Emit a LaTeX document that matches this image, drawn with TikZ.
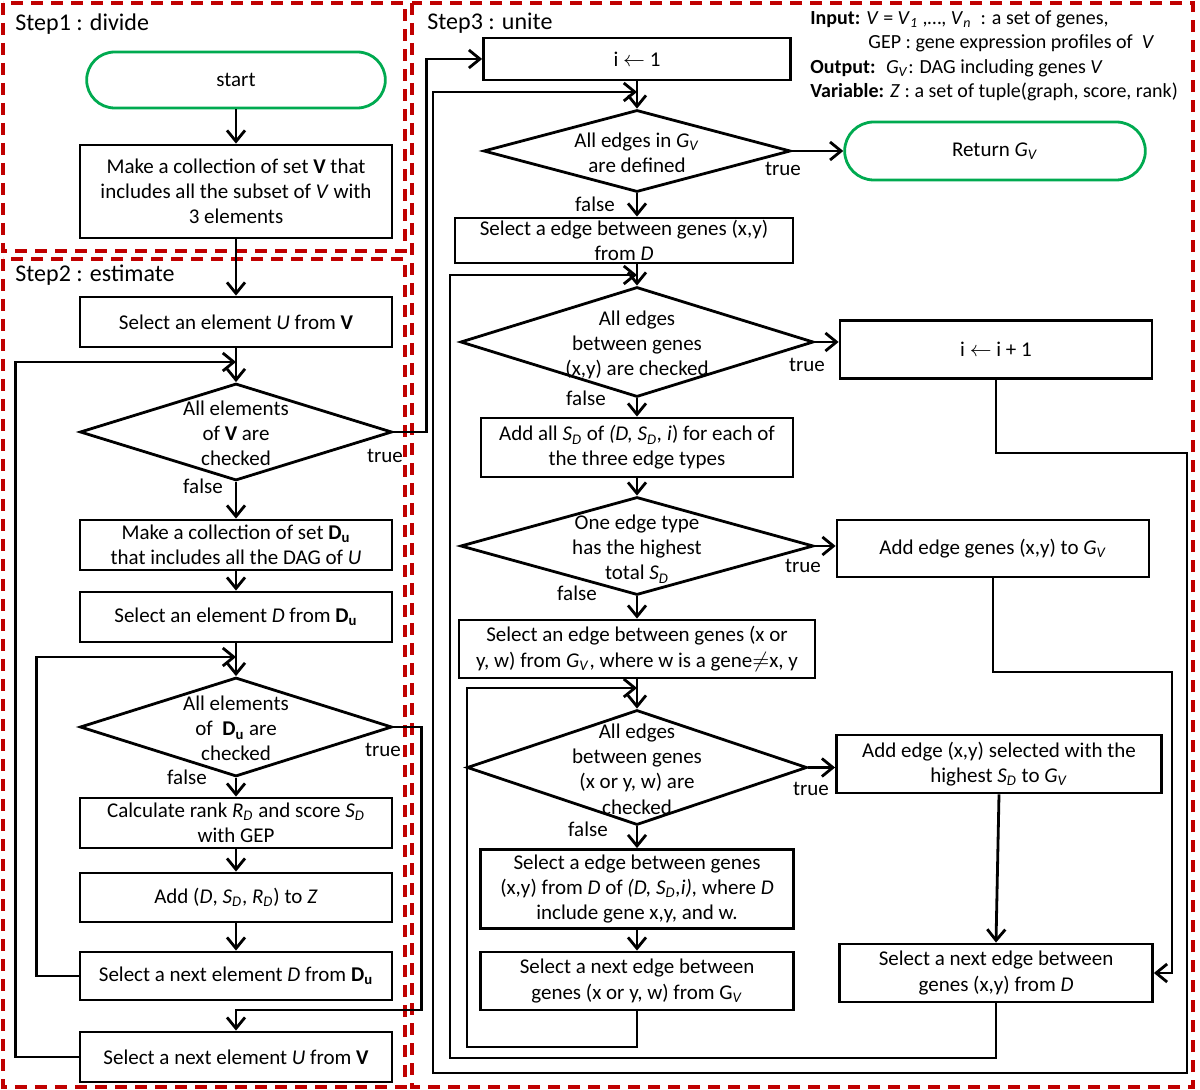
\documentclass[tikz,border=0pt]{standalone}
\usepackage{fontspec}
\setmainfont{Carlito}
\usetikzlibrary{shapes.geometric,shapes.misc,arrows.meta}
\definecolor{stagered}{RGB}{192,0,0}
\definecolor{termgreen}{RGB}{0,170,80}
\newcommand{\GV}{\textit{G}\textsubscript{\textit{V}}}
\newcommand{\SD}{\textit{S}\textsubscript{\textit{D}}}
\newcommand{\RD}{\textit{R}\textsubscript{\textit{D}}}
\newcommand{\Du}{\textbf{D}\textsubscript{\textbf{u}}}
\newcommand{\dtext}[1]{\makebox[0pt]{\raisebox{-4.6pt}[0pt][0pt]{\begin{tabular}{@{}c@{}}#1\end{tabular}}}}
\tikzset{
  stage/.style={draw=stagered, line width=2pt, dash pattern=on 6pt off 4pt},
  steplabel/.style={anchor=west, inner sep=0pt, font=\fontsize{12}{14}\selectfont},
  proc/.style={draw, line width=1.4pt, align=center, inner sep=1pt},
  decision/.style={draw, diamond, line width=1.4pt, inner sep=0pt},
  term/.style={draw=termgreen, rounded rectangle, line width=1.4pt},
  lbl/.style={inner sep=0pt},
  arr/.style={line width=1.4pt, -{Straight Barb[length=5.5pt,width=9pt]}}
}

\begin{document}
\begin{tikzpicture}[x=0.5pt, y=-0.5pt, font=\fontsize{10.5}{12.6}\selectfont]
  \useasboundingbox (0,0) rectangle (1200,1090);
  \draw[stage] (3,3) rectangle (405,251);
  \draw[stage] (3,259) rectangle (405,1087);
  \draw[stage] (412,3) rectangle (1193,1087);
  \node[steplabel] (s1) at (15,24) {Step1 : divide};
  \node[steplabel] (s2) at (15,275) {Step2 : estimate};
  \node[steplabel] (s3) at (427,23) {Step3 : unite};
  \node[anchor=north west, inner sep=0pt, align=left, font=\fontsize{10}{12.3}\selectfont] (info) at (810,10)
    {\textbf{Input:} \textit{V} = \textit{V}\textsubscript{\textit{1}} ,…, \textit{V}\textsubscript{\textit{n}}~ : a set of genes,\\
     \hspace*{29pt}GEP : gene expression profiles of~ \textit{V}\\
     \textbf{Output:}~ \GV : DAG including genes \textit{V}\\
     \textbf{Variable:} \textit{Z} : a set of tuple(graph, score, rank)};

  \node[term, minimum width=156pt, minimum height=28pt] (start) at (236,80) {start};
  \node[proc, minimum width=156pt, minimum height=46.5pt] (makeV) at (236,191.5)
    {Make a collection of set \textbf{V} that\\includes all the subset of \textit{V} with\\3 elements};
  \node[proc, minimum width=156pt, minimum height=25pt] (selU) at (236,322) {Select an element \textit{U} from \textbf{V}};
  \node[decision, minimum width=156pt, minimum height=48.5pt] (d1) at (236,432) {\dtext{All elements\\of \textbf{V} are\\checked}};
  \node[proc, minimum width=156pt, minimum height=25pt] (makeDu) at (236,545)
    {Make a collection of set \Du\\that includes all the DAG of \textit{U}};
  \node[proc, minimum width=156pt, minimum height=25pt] (selD) at (236,617) {Select an element \textit{D} from \Du};
  \node[decision, minimum width=156pt, minimum height=49.5pt] (d2) at (236,727) {\dtext{All elements\\of~ \Du{} are\\checked}};
  \node[proc, minimum width=156pt, minimum height=25pt] (calc) at (236,823) {Calculate rank \RD{} and score \SD\\with GEP};
  \node[proc, minimum width=156pt, minimum height=24.5pt] (addZ) at (236,897.5) {Add (\textit{D}, \SD, \RD) to \textit{Z}};
  \node[proc, minimum width=156pt, minimum height=24pt] (nextD) at (236,976) {Select a next element \textit{D} from \Du};
  \node[proc, minimum width=156pt, minimum height=25pt] (nextU) at (236,1057) {Select a next element \textit{U} from \textbf{V}};

  \node[proc, minimum width=153.5pt, minimum height=21pt] (i1) at (637,59) {i $\leftarrow$ 1};
  \node[decision, minimum width=153.5pt, minimum height=41pt] (d3) at (637,151) {\dtext{All edges in \GV\\are defined}};
  \node[term, minimum width=157pt, minimum height=29pt] (ret) at (995,151) {Return \GV};
  \node[proc, minimum width=169pt, minimum height=22.5pt] (selXY) at (624,240.5) {Select a edge between genes (x,y)\\from \textit{D}};
  \node[decision, minimum width=176.5pt, minimum height=55pt] (d4) at (637,342) {\dtext{All edges\\between genes\\(x,y) are checked}};
  \node[proc, minimum width=156pt, minimum height=29pt] (incI) at (996,349.5) {i $\leftarrow$ i + 1};
  \node[proc, minimum width=156pt, minimum height=29.5pt] (addAll) at (637,447.5)
    {Add all \SD{} of \textit{(D, }\SD\textit{, i}) for each of\\the three edge types};
  \node[decision, minimum width=176.5pt, minimum height=49pt] (d5) at (637,546) {\dtext{One edge type\\has the highest\\total \SD}};
  \node[proc, minimum width=156pt, minimum height=28.5pt] (addEdge) at (993,548.5) {Add edge genes (x,y) to \GV};
  \node[proc, minimum width=178pt, minimum height=29pt] (selW) at (637,649)
    {Select an edge between genes (x or\\y, w) from \GV, where w is a gene$\neq$x, y};
  \node[decision, minimum width=170pt, minimum height=57.5pt] (d6) at (637,767.5) {\dtext{All edges\\between genes\\(x or y, w) are\\checked}};
  \node[proc, minimum width=162.5pt, minimum height=29pt] (addHigh) at (999,764)
    {Add edge (x,y) selected with the\\highest \SD{} to \GV};
  \node[proc, minimum width=156.5pt, minimum height=39.5pt] (selE) at (637,889)
    {Select a edge between genes\\(x,y) from \textit{D} of \textit{(D, }\SD\textit{,i), }where \textit{D}\\include gene x,y, and w.};
  \node[proc, minimum width=156.5pt, minimum height=29pt] (nextW) at (637,981)
    {Select a next edge between\\genes (x or y, w) from G\textsubscript{\textit{V}}};
  \node[proc, minimum width=156.5pt, minimum height=29pt] (nextXY) at (996,973)
    {Select a next edge between\\genes (x,y) from \textit{D}};

  \node[lbl] (t1) at (385,456) {true};
  \node[lbl] (f1) at (203,486) {false};
  \node[lbl] (t2) at (383,750) {true};
  \node[lbl] (f2) at (187,777) {false};
  \node[lbl] (t3) at (783,169) {true};
  \node[lbl] (f3) at (595,204) {false};
  \node[lbl] (t4) at (807,365) {true};
  \node[lbl] (f4) at (586,398) {false};
  \node[lbl] (t5) at (803,566) {true};
  \node[lbl] (f5) at (577,593) {false};
  \node[lbl] (t6) at (811,789) {true};
  \node[lbl] (f6) at (588,829) {false};

  \coordinate (j1) at (236,362);
  \coordinate (j2) at (236,1010);
  \coordinate (j3) at (236,657);
  \coordinate (k1) at (637,92);
  \coordinate (k2) at (637,275);
  \coordinate (k3) at (637,688);

  \draw[arr] (start.south) -- (makeV.north);
  \draw[arr] (makeV.south) -- (selU.north);
  \draw[arr] (selU.south) -- (d1.north);
  \draw[arr] (d1.south) -- (makeDu.north);
  \draw[arr] (makeDu.south) -- (selD.north);
  \draw[arr] (selD.south) -- (d2.north);
  \draw[arr] (d2.south) -- (calc.north);
  \draw[arr] (calc.south) -- (addZ.north);
  \draw[arr] (addZ.south) -- (nextD.north);
  \draw[arr] (nextD.west) -- ++(-42,0) |- (j3);
  \draw[arr] (nextU.west) -- ++(-63,0) |- (j1);
  \draw[arr] (d2.east) -- ++(28,0) |- (j2) -- (nextU.north);
  \draw[arr] (d1.east) -- ++(33,0) |- (i1.west);

  \draw[arr] (i1.south) -- (d3.north);
  \draw[arr] (d3.east) -- (ret.west);
  \draw[arr] (d3.south) -- (d3.south |- selXY.north);
  \draw[arr] (selXY.south -| d4.north) -- (d4.north);
  \draw[arr] (d4.east) -- (d4.east -| incI.west);
  \draw[arr] (d4.south) -- (addAll.north);
  \draw[arr] (addAll.south) -- (d5.north);
  \draw[arr] (d5.east) -- (d5.east -| addEdge.west);
  \draw[arr] (d5.south) -- (selW.north);
  \draw[arr] (selW.south) -- (d6.north);
  \draw[arr] (d6.east) -- (d6.east -| addHigh.west);
  \draw[arr] (d6.south) -- (selE.north);
  \draw[arr] (selE.south) -- (nextW.north);
  \draw[arr] (addHigh.south) -- (nextXY.north);
  \draw[arr] (addEdge.south) |- (1172,672) |- (nextXY.east);
  \draw[arr] (nextW.south) |- (467,1047) |- (k3);
  \draw[arr] (nextXY.south) |- (450,1058) |- (k2);
  \draw[arr] (incI.south) |- (1187,453) |- (433,1073) |- (k1);
\end{tikzpicture}
\end{document}
